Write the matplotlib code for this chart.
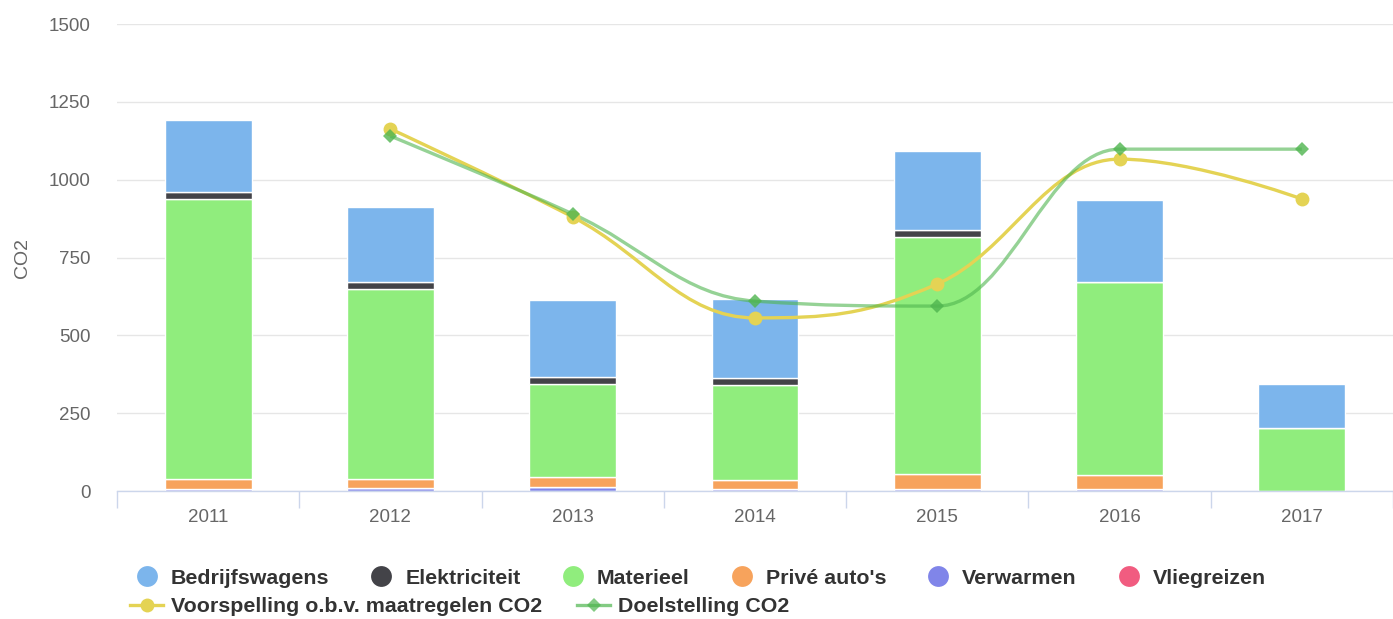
import matplotlib.pyplot as plt
import numpy as np
from matplotlib.path import Path
from matplotlib.patches import PathPatch
from matplotlib.lines import Line2D

plt.rcParams['font.family'] = ['Liberation Sans', 'DejaVu Sans']

# data
years = ['2011', '2012', '2013', '2014', '2015', '2016', '2017']
verwarmen = [8, 10, 13, 8, 8, 8, 0]
vliegreizen = [0, 0, 0, 0, 0, 0, 0]
prive_autos = [30, 28, 32, 27, 47, 43, 0]
materieel = [900, 611, 300, 305, 761, 620, 202]
elektriciteit = [22, 22, 22, 22, 22, 0, 0]
bedrijfswagens = [233, 241, 248, 255, 254, 264, 142]

line_idx = [1, 2, 3, 4, 5, 6]
voorspelling = [1163, 880, 556, 665, 1066, 938]
doelstelling = [1140, 890, 610, 594, 1098, 1098]

c_bedr = '#7cb5ec'
c_elek = '#434348'
c_mat = '#90ed7d'
c_prive = '#f7a35c'
c_verw = '#8085e9'
c_vlieg = '#f15c80'
c_voor = '#e4d354'
c_doel = '#4fb54f'


def spline_path(xs, ys, smoothing=1.5):
    # highcharts-style spline, control points per point
    n = len(xs)
    lc = [(xs[i], ys[i]) for i in range(n)]
    rc = [(xs[i], ys[i]) for i in range(n)]
    denom = smoothing + 1
    for i in range(1, n - 1):
        px, py = xs[i], ys[i]
        lx, ly = xs[i - 1], ys[i - 1]
        nx, ny = xs[i + 1], ys[i + 1]
        lcx = (smoothing * px + lx) / denom
        lcy = (smoothing * py + ly) / denom
        rcx = (smoothing * px + nx) / denom
        rcy = (smoothing * py + ny) / denom
        if rcx != lcx:
            corr = (rcy - lcy) * (rcx - px) / (rcx - lcx) + py - rcy
            lcy += corr
            rcy += corr
            if lcy > ly and lcy > py:
                lcy = max(ly, py)
                rcy = 2 * py - lcy
            elif lcy < ly and lcy < py:
                lcy = min(ly, py)
                rcy = 2 * py - lcy
            if rcy > ny and rcy > py:
                rcy = max(ny, py)
                lcy = 2 * py - rcy
            elif rcy < ny and rcy < py:
                rcy = min(ny, py)
                lcy = 2 * py - rcy
        lc[i] = (lcx, lcy)
        rc[i] = (rcx, rcy)
    verts = [(xs[0], ys[0])]
    codes = [Path.MOVETO]
    for i in range(1, n):
        verts += [rc[i - 1], lc[i], (xs[i], ys[i])]
        codes += [Path.CURVE4] * 3
    return Path(verts, codes)


fig = plt.figure(figsize=(13.93, 6.19), dpi=100)
ax = fig.add_axes([117 / 1393, 1 - 491 / 619, 1 - 117 / 1393, 467 / 619])

x = np.arange(len(years))
w = 0.477
stack = [(verwarmen, c_verw), (vliegreizen, c_vlieg), (prive_autos, c_prive),
         (materieel, c_mat), (elektriciteit, c_elek), (bedrijfswagens, c_bedr)]
bottom = np.zeros(len(years))
for vals, col in stack:
    vals = np.array(vals, dtype=float)
    ax.bar(x, vals, w, bottom=bottom, color=col, edgecolor='white',
           linewidth=1, zorder=2)
    bottom += vals

for xs, ys, col, mk, ms, alpha in [(line_idx, voorspelling, c_voor, 'o', 10, 1.0),
                                   (line_idx, doelstelling, c_doel, 'D', 7, 0.6)]:
    p = spline_path(list(map(float, xs)), list(map(float, ys)))
    ax.add_patch(PathPatch(p, facecolor='none', edgecolor=col, lw=2.4,
                           alpha=alpha, zorder=3))
    ax.plot(xs, ys, linestyle='none', marker=mk, ms=ms, color=col,
            alpha=min(1, alpha + 0.2), zorder=4, markeredgewidth=0)

ax.set_xlim(-0.5, 6.5)
ax.set_ylim(0, 1500)
ax.set_yticks([0, 250, 500, 750, 1000, 1250, 1500])
ax.yaxis.grid(True, color='#e6e6e6', linewidth=1.0)
ax.set_axisbelow(True)
for s in ['top', 'right', 'left']:
    ax.spines[s].set_visible(False)
ax.spines['bottom'].set_color('#ccd6eb')
ax.spines['bottom'].set_linewidth(1.0)

ax.set_xticks(x)
ax.set_xticklabels(years)
ax.set_xticks(np.arange(-0.5, 7, 1), minor=True)
ax.tick_params(axis='x', which='major', length=0, pad=13, labelsize=13.5,
               labelcolor='#666666')
ax.tick_params(axis='x', which='minor', length=12, width=1, color='#ccd6eb')
ax.tick_params(axis='y', length=0, pad=19, labelsize=13.5, labelcolor='#666666')
ax.set_ylabel('CO2', fontsize=14, color='#666666', labelpad=14)
ax.yaxis.set_label_coords(-(117 - 22) / (1393 - 117), 0.5)
ax.yaxis.label.set_va('center')

row1 = [('Bedrijfswagens', c_bedr), ('Elektriciteit', c_elek), ('Materieel', c_mat),
        ('Privé auto\'s', c_prive), ('Verwarmen', c_verw), ('Vliegreizen', c_vlieg)]
h1 = [Line2D([], [], marker='o', linestyle='none', ms=15, color=c, markeredgewidth=0)
      for _, c in row1]
h2 = [Line2D([], [], marker='o', color=c_voor, lw=2.4, ms=10, markeredgewidth=0),
      Line2D([], [], marker='D', color=c_doel, lw=2.4, ms=7, alpha=0.7,
             markeredgewidth=0)]
lab2 = ['Voorspelling o.b.v. maatregelen CO2', 'Doelstelling CO2']

kw = dict(frameon=False, borderpad=0, borderaxespad=0, handlelength=1.55,
          handletextpad=0.35, columnspacing=1.66, loc='center left',
          bbox_transform=fig.transFigure,
          prop={'weight': 'bold', 'size': 15.4})
leg1 = fig.legend(h1, [t for t, _ in row1], ncol=6,
                  bbox_to_anchor=(130 / 1393, 1 - 578 / 619), **kw)
leg2 = fig.legend(h2, lab2, ncol=2, bbox_to_anchor=(130 / 1393, 1 - 607 / 619), **kw)
for leg in (leg1, leg2):
    for t in leg.get_texts():
        t.set_color('#333333')

fig.savefig('out.png', dpi=100)
